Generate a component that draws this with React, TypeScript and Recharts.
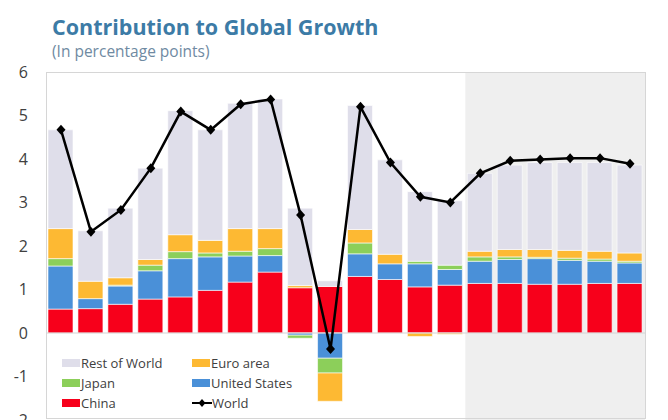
import React from "react";
import { ComposedChart, Bar, Line, XAxis, YAxis, ReferenceArea, ReferenceLine } from "recharts";

const years = [
  "2000", "2001", "2002", "2003", "2004", "2005", "2006", "2007", "2008", "2009",
  "2010", "2011", "2012", "2013", "2014", "2015", "2016", "2017", "2018", "2019",
];
const china = [0.55, 0.56, 0.66, 0.78, 0.83, 0.98, 1.17, 1.4, 1.04, 1.07, 1.3, 1.23, 1.06, 1.1, 1.14, 1.14, 1.12, 1.12, 1.14, 1.14];
const unitedStates = [0.99, 0.23, 0.42, 0.65, 0.88, 0.77, 0.6, 0.38, -0.05, -0.58, 0.52, 0.36, 0.53, 0.36, 0.51, 0.55, 0.59, 0.55, 0.51, 0.47];
const japan = [0.17, 0.0, 0.02, 0.13, 0.16, 0.09, 0.11, 0.16, -0.07, -0.34, 0.25, 0.0, 0.06, 0.1, 0.1, 0.06, 0.03, 0.05, 0.05, 0.04];
const euroArea = [0.69, 0.4, 0.17, 0.13, 0.39, 0.29, 0.52, 0.46, 0.05, -0.65, 0.31, 0.22, -0.08, -0.03, 0.13, 0.17, 0.18, 0.18, 0.18, 0.19];
const restOfWorld = [2.27, 1.16, 1.6, 2.1, 2.85, 2.54, 2.88, 2.98, 1.78, 0.13, 2.85, 2.17, 1.6, 1.48, 1.79, 1.94, 2.0, 2.02, 2.04, 2.02];
const world = [4.67, 2.33, 2.83, 3.79, 5.09, 4.67, 5.26, 5.37, 2.71, -0.37, 5.2, 3.92, 3.13, 3.0, 3.67, 3.96, 3.99, 4.02, 4.02, 3.89];
const yTicks = [-2, -1, 0, 1, 2, 3, 4, 5, 6];
const projectionYears = ["2014", "2019"];

const colors = {
  rest: "#dfdeea",
  euro: "#fdb933",
  japan: "#8ccf5a",
  us: "#4a90d8",
  china: "#f7001b",
  world: "#000000",
};

const data = years.map((year, i) => ({
  year,
  china: china[i],
  us: unitedStates[i],
  japan: japan[i],
  euro: euroArea[i],
  rest: restOfWorld[i],
  world: world[i],
}));

const legendItems = [
  { label: "Rest of World", color: colors.rest, kind: "box" },
  { label: "Euro area", color: colors.euro, kind: "box" },
  { label: "Japan", color: colors.japan, kind: "box" },
  { label: "United States", color: colors.us, kind: "box" },
  { label: "China", color: colors.china, kind: "box" },
  { label: "World", color: colors.world, kind: "line" },
];

const font = "'Open Sans', 'Noto Sans', sans-serif";

const Diamond = (props: any) => {
  const { cx, cy } = props;
  if (cx == null || cy == null) return null;
  return <path d={`M${cx},${cy - 5} L${cx + 4.5},${cy} L${cx},${cy + 5} L${cx - 4.5},${cy} Z`} fill="#000" />;
};

const LegendBox = () => (
  <div
    style={{
      position: "absolute",
      left: 62,
      top: 354,
      display: "grid",
      gridTemplateColumns: "130px 140px",
      rowGap: 2,
      fontFamily: font,
      fontSize: 13,
      color: "#404040",
    }}
  >
    {legendItems.map((it) => (
      <div key={it.label} style={{ display: "flex", alignItems: "center", height: 18 }}>
        {it.kind === "box" ? (
          <span style={{ width: 18, height: 8, background: it.color, marginRight: 1 }} />
        ) : (
          <svg width={20} height={10}>
            <line x1={0} y1={5} x2={20} y2={5} stroke="#000" strokeWidth={2} />
            <path d="M10,1 L13.5,5 L10,9 L6.5,5 Z" fill="#000" />
          </svg>
        )}
        <span>{it.label}</span>
      </div>
    ))}
  </div>
);

export default function App() {
  return (
    <div style={{ position: "relative", width: 668, height: 420, overflow: "hidden", background: "#fff" }}>
      <style>{"body{margin:0}"}</style>
      <div
        style={{
          position: "absolute",
          left: 52,
          top: 12,
          fontFamily: font,
          fontWeight: 700,
          fontSize: 21.5,
          color: "#3c7ba6",
          whiteSpace: "nowrap",
        }}
      >
        Contribution to Global Growth
      </div>
      <div
        style={{
          position: "absolute",
          left: 52,
          top: 40,
          fontFamily: font,
          fontSize: 15.5,
          color: "#6f8aa2",
          whiteSpace: "nowrap",
        }}
      >
        (In percentage points)
      </div>
      <div style={{ position: "absolute", left: 0, top: 0 }}>
        <ComposedChart
          width={668}
          height={420}
          data={data}
          stackOffset="sign"
          margin={{ top: 72, right: 23, bottom: 0, left: 0 }}
        >
          <XAxis dataKey="year" hide />
          <YAxis
            domain={[-2, 6]}
            ticks={yTicks}
            width={46}
            axisLine={false}
            tickLine={false}
            tickSize={0}
            tickMargin={18}
            tick={{ fill: "#404040", fontSize: 16, fontFamily: font }}
            interval={0}
          />
          <ReferenceArea x1={projectionYears[0]} x2={projectionYears[1]} fill="#efefef" fillOpacity={1} stroke="none" />
          <ReferenceLine y={0} stroke="#d4d4d4" strokeWidth={1} />
          <Bar dataKey="china" stackId="a" fill={colors.china} stroke="#fff" strokeWidth={0.6} barSize={25} isAnimationActive={false} />
          <Bar dataKey="us" stackId="a" fill={colors.us} stroke="#fff" strokeWidth={0.6} barSize={25} isAnimationActive={false} />
          <Bar dataKey="japan" stackId="a" fill={colors.japan} stroke="#fff" strokeWidth={0.6} barSize={25} isAnimationActive={false} />
          <Bar dataKey="euro" stackId="a" fill={colors.euro} stroke="#fff" strokeWidth={0.6} barSize={25} isAnimationActive={false} />
          <Bar dataKey="rest" stackId="a" fill={colors.rest} stroke="#fff" strokeWidth={0.6} barSize={25} isAnimationActive={false} />
          <Line
            dataKey="world"
            type="linear"
            stroke={colors.world}
            strokeWidth={2.5}
            dot={<Diamond />}
            activeDot={false}
            isAnimationActive={false}
          />
        </ComposedChart>
      </div>
      <div
        style={{
          position: "absolute",
          left: 46,
          top: 72,
          width: 600,
          height: 347,
          boxSizing: "border-box",
          border: "1px solid #d6d6d6",
          pointerEvents: "none",
        }}
      />
      <LegendBox />
    </div>
  );
}
